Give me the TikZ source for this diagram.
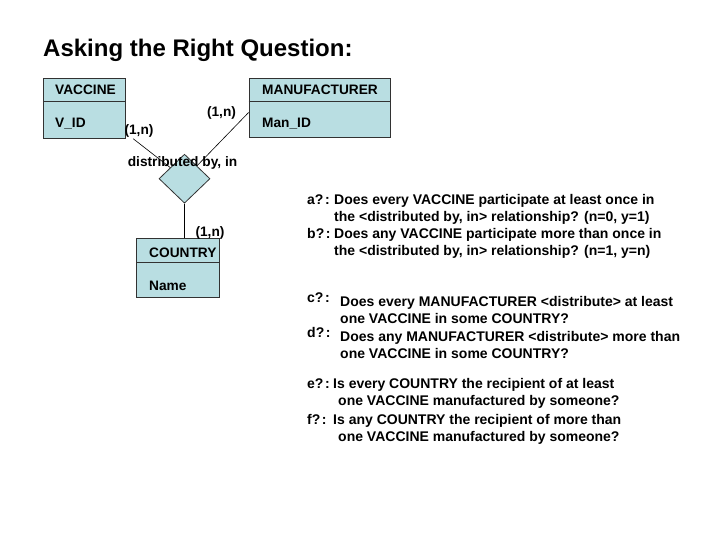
\documentclass[tikz,border=0pt]{standalone}
\usepackage{fontspec}
\setmainfont{Liberation Sans}
\usetikzlibrary{shapes.geometric}
\definecolor{boxfill}{RGB}{185,222,226}
\definecolor{boxline}{RGB}{50,50,50}
\newcommand{\smallbf}{\bfseries\fontsize{13.7}{17}\selectfont}
\newcommand{\qbf}{\bfseries\fontsize{14}{17}\selectfont}
\newcommand{\qsep}{\hspace{1.5pt}:}

\begin{document}
\begin{tikzpicture}[x=1pt,y=-1pt,
  entity/.style={draw=boxline, fill=boxfill, line width=0.8pt, inner sep=0pt},
  relation/.style={diamond, draw=boxline, fill=boxfill, line width=0.8pt, inner sep=0pt, minimum width=51pt, minimum height=49pt},
  attr/.style={anchor=base west, inner sep=0pt, font=\smallbf},
  card/.style={anchor=base, inner sep=0pt, font=\smallbf},
  qlabel/.style={anchor=base west, inner sep=0pt, font=\qbf},
  qtext/.style={anchor=north west, inner sep=0pt, align=left, font=\qbf},
  link/.style={draw=black, line width=0.6pt}]
\useasboundingbox (0,0) rectangle (720,540);

\node[anchor=base west, inner sep=0pt, font=\bfseries\fontsize{24}{28}\selectfont] (title) at (43,56.5) {Asking the Right Question:};

% entities and relationship
\node[entity, minimum width=82.5pt, minimum height=60pt] (vaccine) at (84.5,108.3) {};
\node[entity, minimum width=141pt, minimum height=59pt] (manu) at (319.5,107.5) {};
\node[entity, minimum width=82.5pt, minimum height=59pt] (country) at (178,267.5) {};
\draw[boxline, line width=0.8pt] ([yshift=-23.5pt]vaccine.north west) -- ([yshift=-23.5pt]vaccine.north east);
\draw[boxline, line width=0.8pt] ([yshift=-24pt]manu.north west) -- ([yshift=-24pt]manu.north east);
\draw[boxline, line width=0.8pt] ([yshift=-24.7pt]country.north west) -- ([yshift=-24.7pt]country.north east);
\node[relation] (rel) at (184.5,178.7) {};

\draw[link] ([xshift=7pt]vaccine.south east) -- (rel);
\draw[link] ([yshift=-5pt]manu.west) -- (rel);
\draw[link] (rel.south) -- (rel.south |- country.north);

\node[attr] (vname) at (55,95) {VACCINE};
\node[attr] (vkey) at (55,128) {V\_ID};
\node[attr] (mname) at (262,95) {MANUFACTURER};
\node[attr] (mkey) at (262,128) {Man\_ID};
\node[attr] (cname) at (149,257) {COUNTRY};
\node[attr] (ckey) at (149,290) {Name};

\node[card] (cv) at (139,135) {(1,n)};
\node[card] (cm) at (221.5,116.5) {(1,n)};
\node[card] (cc) at (210,236.5) {(1,n)};
\node[card] (rname) at (182.5,167) {distributed by, in};

% questions
\node[qlabel] (qa) at (307,204.5) {a?\qsep};
\node[qtext] (ta) at (334,194.4) {Does every VACCINE participate at least once in\\the <distributed by, in> relationship? (n=0, y=1)};
\node[qlabel] (qb) at (307,238) {b?\qsep};
\node[qtext] (tb) at (334,227.9) {Does any VACCINE participate more than once in\\the <distributed by, in> relationship? (n=1, y=n)};
\node[qlabel] (qc) at (307,302.5) {c?\qsep};
\node[qtext] (tc) at (340,296.4) {Does every MANUFACTURER <distribute> at least\\one VACCINE in some COUNTRY?};
\node[qlabel] (qd) at (307,337) {d?\qsep};
\node[qtext] (td) at (340,330.9) {Does any MANUFACTURER <distribute> more than\\one VACCINE in some COUNTRY?};
\node[qlabel] (qe) at (307,388.5) {e?\qsep};
\node[qtext] (te) at (333,378.4) {Is every COUNTRY the recipient of at least\\\hspace*{5pt}one VACCINE manufactured by someone?};
\node[qlabel] (qf) at (307,424.5) {f?\qsep};
\node[qtext] (tf) at (333,414.4) {Is any COUNTRY the recipient of more than\\\hspace*{5pt}one VACCINE manufactured by someone?};
\end{tikzpicture}
\end{document}
